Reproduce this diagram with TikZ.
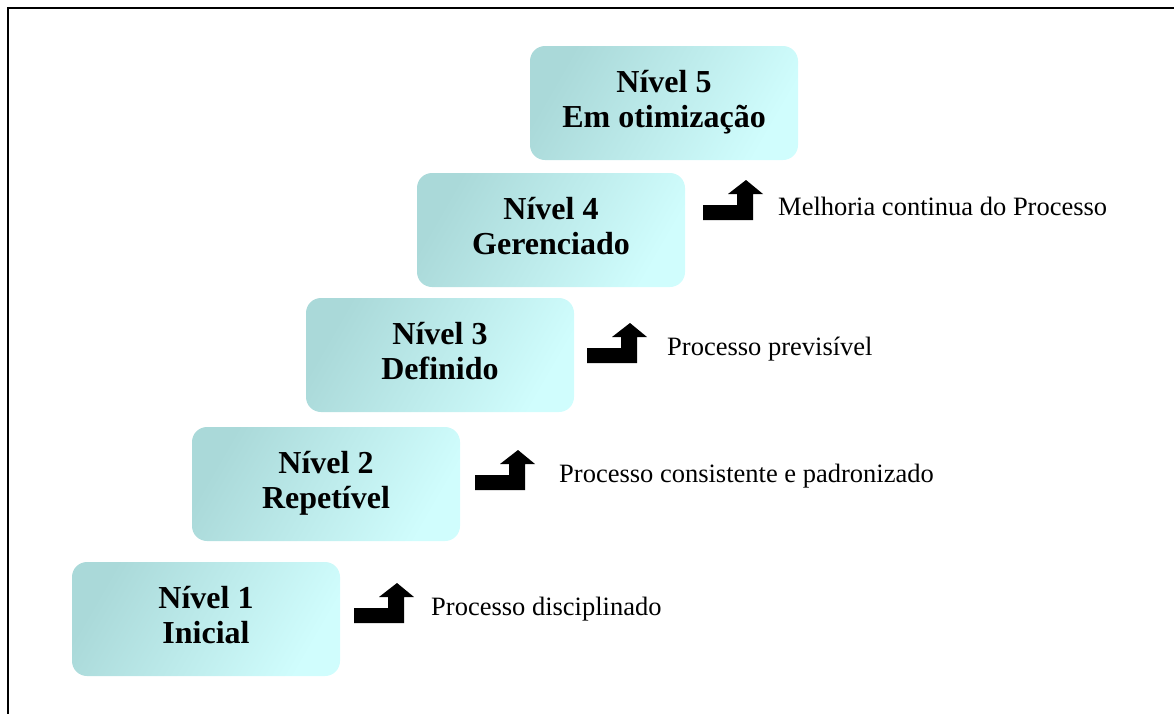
\documentclass[tikz,border=0pt]{standalone}
\usepackage{fontspec}
\setmainfont{Liberation Serif}
\usepackage{tikz}
\usetikzlibrary{positioning}
\usetikzlibrary{calc}
\definecolor{stepdark}{RGB}{170,217,217}
\definecolor{steplight}{RGB}{208,253,253}
\tikzstyle{level}=[rounded corners=15pt,minimum width=268pt,minimum height=114pt,inner sep=0pt,align=center,text depth=9pt,left color=stepdark,right color=steplight,shading angle=60,font=\fontsize{32}{35}\selectfont\bfseries]
\tikzstyle{note}=[anchor=west,inner sep=0pt,font=\fontsize{26.5}{30}\selectfont]
\tikzstyle{stepup}=[fill=black,draw=none]

\begin{document}
\begin{tikzpicture}[x=1pt,y=-1pt]
\useasboundingbox (0,0) rectangle (1174,713);
\draw[line width=2pt] (1260,7.5) -- (7.5,7.5) -- (7.5,760);

%Levels
    \foreach \pos/\name/\label in {{(206,619)/n1/{N\'ivel 1\\Inicial}}, {(326,484)/n2/{N\'ivel 2\\Repet\'ivel}}, {(440,355)/n3/{N\'ivel 3\\Definido}}, {(551,230)/n4/{N\'ivel 4\\Gerenciado}}, {(664,103)/n5/{N\'ivel 5\\Em otimiza\c{c}\~ao}}}
        \node[level] (\name) at \pos {\label};

%Arrows and notes
  \foreach \x/\y/\dx/\name/\label in {354/623/77/a1/{Processo disciplinado}, 475/490/84/a2/{Processo consistente e padronizado}, 587/363/80/a3/{Processo previs\'ivel}, 703/220/75/a4/{Melhoria continua do Processo}}
  {
    \coordinate (\name) at (\x,\y);
    \fill[stepup] (\name) -- ++(50,0) -- ++(0,-26) -- ++(10,0) -- ++(-17,-14) -- ++(-18,14) -- ++(9,0) -- ++(0,11) -- ++(-34,0) -- cycle;
    \node[note] (t\name) at ($(\name)+(\dx,-14)$) {\label};
  }

\end{tikzpicture}
\end{document}
